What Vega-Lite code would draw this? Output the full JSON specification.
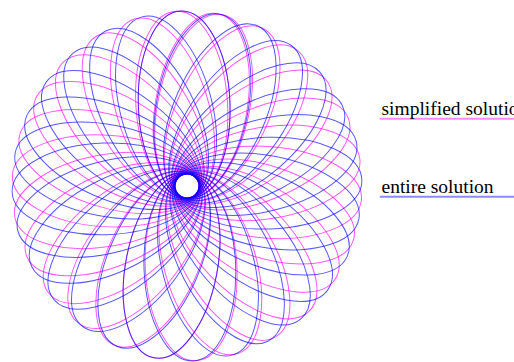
{
  "$schema": "https://vega.github.io/schema/vega-lite/v6.json",
  "width": 514,
  "height": 362,
  "padding": 0,
  "autosize": {"type": "none"},
  "background": "white",
  "config": {"view": {"stroke": null}},
  "datasets": {
    "orbits": [
      {"solution": "simplified solution", "orbit": 0, "apsis": -2.0},
      {"solution": "simplified solution", "orbit": 1, "apsis": 11.8},
      {"solution": "simplified solution", "orbit": 2, "apsis": 25.6},
      {"solution": "simplified solution", "orbit": 3, "apsis": 39.3},
      {"solution": "simplified solution", "orbit": 4, "apsis": 53.1},
      {"solution": "simplified solution", "orbit": 5, "apsis": 66.9},
      {"solution": "simplified solution", "orbit": 6, "apsis": 80.7},
      {"solution": "simplified solution", "orbit": 7, "apsis": 94.5},
      {"solution": "simplified solution", "orbit": 8, "apsis": 108.2},
      {"solution": "simplified solution", "orbit": 9, "apsis": 122.0},
      {"solution": "simplified solution", "orbit": 10, "apsis": 135.8},
      {"solution": "simplified solution", "orbit": 11, "apsis": 149.6},
      {"solution": "simplified solution", "orbit": 12, "apsis": 163.4},
      {"solution": "simplified solution", "orbit": 13, "apsis": 177.1},
      {"solution": "simplified solution", "orbit": 14, "apsis": 190.9},
      {"solution": "simplified solution", "orbit": 15, "apsis": 204.7},
      {"solution": "simplified solution", "orbit": 16, "apsis": 218.5},
      {"solution": "simplified solution", "orbit": 17, "apsis": 232.3},
      {"solution": "simplified solution", "orbit": 18, "apsis": 246.0},
      {"solution": "simplified solution", "orbit": 19, "apsis": 259.8},
      {"solution": "simplified solution", "orbit": 20, "apsis": 273.6},
      {"solution": "simplified solution", "orbit": 21, "apsis": 287.4},
      {"solution": "simplified solution", "orbit": 22, "apsis": 301.2},
      {"solution": "simplified solution", "orbit": 23, "apsis": 314.9},
      {"solution": "simplified solution", "orbit": 24, "apsis": 328.7},
      {"solution": "simplified solution", "orbit": 25, "apsis": 342.5},
      {"solution": "simplified solution", "orbit": 26, "apsis": 356.3},
      {"solution": "simplified solution", "orbit": 27, "apsis": 370.1},
      {"solution": "entire solution", "orbit": 0, "apsis": -2.0},
      {"solution": "entire solution", "orbit": 1, "apsis": 10.9},
      {"solution": "entire solution", "orbit": 2, "apsis": 23.7},
      {"solution": "entire solution", "orbit": 3, "apsis": 36.6},
      {"solution": "entire solution", "orbit": 4, "apsis": 49.4},
      {"solution": "entire solution", "orbit": 5, "apsis": 62.3},
      {"solution": "entire solution", "orbit": 6, "apsis": 75.1},
      {"solution": "entire solution", "orbit": 7, "apsis": 88.0},
      {"solution": "entire solution", "orbit": 8, "apsis": 100.9},
      {"solution": "entire solution", "orbit": 9, "apsis": 113.7},
      {"solution": "entire solution", "orbit": 10, "apsis": 126.6},
      {"solution": "entire solution", "orbit": 11, "apsis": 139.4},
      {"solution": "entire solution", "orbit": 12, "apsis": 152.3},
      {"solution": "entire solution", "orbit": 13, "apsis": 165.1},
      {"solution": "entire solution", "orbit": 14, "apsis": 178.0},
      {"solution": "entire solution", "orbit": 15, "apsis": 190.9},
      {"solution": "entire solution", "orbit": 16, "apsis": 203.7},
      {"solution": "entire solution", "orbit": 17, "apsis": 216.6},
      {"solution": "entire solution", "orbit": 18, "apsis": 229.4},
      {"solution": "entire solution", "orbit": 19, "apsis": 242.3},
      {"solution": "entire solution", "orbit": 20, "apsis": 255.1},
      {"solution": "entire solution", "orbit": 21, "apsis": 268.0},
      {"solution": "entire solution", "orbit": 22, "apsis": 280.9},
      {"solution": "entire solution", "orbit": 23, "apsis": 293.7},
      {"solution": "entire solution", "orbit": 24, "apsis": 306.6},
      {"solution": "entire solution", "orbit": 25, "apsis": 319.4},
      {"solution": "entire solution", "orbit": 26, "apsis": 332.3},
      {"solution": "entire solution", "orbit": 27, "apsis": 345.1}
    ],
    "sun": [{"body": "Sun"}]
  },
  "layer": [
    {
      "data": {"name": "orbits"},
      "mark": {
        "type": "point",
        "shape": "M 0,-1 C 0.1446,-1 0.2619,-0.7608 0.2619,-0.4657 C 0.2619,-0.1706 0.1446,0.0686 0,0.0686 C -0.1446,0.0686 -0.2619,-0.1706 -0.2619,-0.4657 C -0.2619,-0.7608 -0.1446,-1 0,-1 Z",
        "size": 122500,
        "filled": false,
        "strokeWidth": 1,
        "opacity": 0.65
      },
      "encoding": {
        "x": {"datum": 0, "type": "quantitative", "scale": {"domain": [-187, 327], "nice": false, "zero": false}, "axis": null},
        "y": {"datum": 0, "type": "quantitative", "scale": {"domain": [-176, 186], "nice": false, "zero": false}, "axis": null},
        "angle": {"field": "apsis", "type": "quantitative", "scale": null},
        "color": {
          "field": "solution",
          "type": "nominal",
          "scale": {"domain": ["simplified solution", "entire solution"], "range": ["#ff00ff", "#0000ff"]},
          "legend": {
            "title": null,
            "orient": "none",
            "legendX": 370,
            "legendY": 99,
            "padding": 0,
            "symbolType": "M 0,10 L 150,10",
            "symbolSize": 4,
            "symbolStrokeWidth": 2,
            "symbolOpacity": 0.45,
            "labelFont": "Liberation Serif",
            "labelFontSize": 19.5,
            "labelColor": "black",
            "labelOffset": -8,
            "labelLimit": 0,
            "rowPadding": 53
          }
        }
      }
    },
    {
      "data": {"name": "sun"},
      "mark": {"type": "point", "shape": "circle", "filled": true, "color": "white", "opacity": 1, "size": 314},
      "encoding": {
        "x": {"datum": 0, "type": "quantitative"},
        "y": {"datum": 0, "type": "quantitative"}
      }
    }
  ]
}
